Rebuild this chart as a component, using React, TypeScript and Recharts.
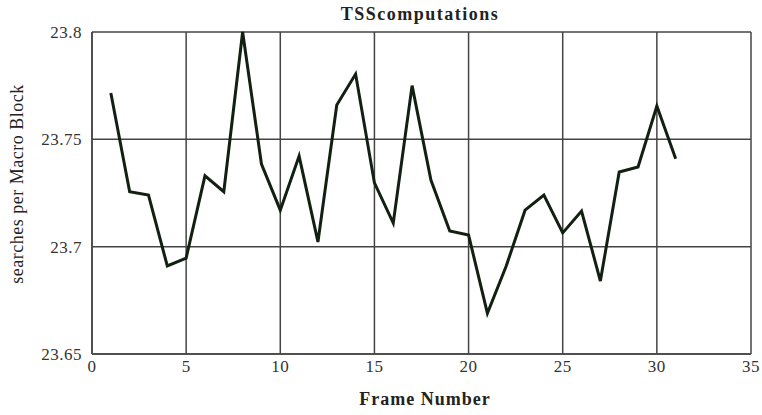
import { LineChart, Line, XAxis, YAxis, CartesianGrid } from 'recharts';

// frame index and TSS search count per macro block
const frames = [
  1, 2, 3, 4, 5, 6, 7, 8, 9, 10, 11, 12, 13, 14, 15, 16,
  17, 18, 19, 20, 21, 22, 23, 24, 25, 26, 27, 28, 29, 30, 31,
];
const searches = [
  23.7716, 23.7256, 23.724, 23.691, 23.6947, 23.733, 23.7256, 23.8,
  23.7385, 23.717, 23.7422, 23.7022, 23.766, 23.7804, 23.7297, 23.711,
  23.775, 23.731, 23.7073, 23.7054, 23.669, 23.691, 23.717, 23.724,
  23.7064, 23.7166, 23.684, 23.7348, 23.7371, 23.7655, 23.741,
];
const xTicks = [0, 5, 10, 15, 20, 25, 30, 35];
const yTicks = [23.65, 23.7, 23.75, 23.8];

const data = frames.map((f, i) => ({ frame: f, value: searches[i] }));

const serif = 'Liberation Serif';
const tickStyle = { fontFamily: serif, fontSize: 17, fill: '#333', letterSpacing: 0.5 };

const App = () => {
  return (
    <div style={{ position: 'absolute', left: 0, top: 0, background: '#fff', fontFamily: serif }}>
      <LineChart
        width={762}
        height={415}
        data={data}
        style={{ fontFamily: serif }}
        margin={{ top: 32, right: 11, bottom: 0, left: 0 }}
      >
        <CartesianGrid stroke="#444" strokeWidth={1.5} />
        <XAxis
          dataKey="frame"
          type="number"
          domain={[0, 35]}
          ticks={xTicks}
          height={61}
          stroke="#444"
          strokeWidth={1.5}
          fontFamily={serif}
          fontSize={17}
          tickLine={false}
          tickSize={6}
          tickMargin={0}
          tick={tickStyle}
        />
        <YAxis
          type="number"
          domain={[23.65, 23.8]}
          ticks={yTicks}
          width={92}
          stroke="#444"
          strokeWidth={1.5}
          fontFamily={serif}
          fontSize={17}
          tickLine={false}
          tickSize={6}
          tickMargin={4}
          tick={tickStyle}
          tickFormatter={(v: number) => String(+v.toFixed(2))}
        />
        <Line
          dataKey="value"
          stroke="#122012"
          strokeWidth={3}
          dot={false}
          strokeLinejoin="miter"
          isAnimationActive={false}
        />
        <text
          x={420}
          y={20}
          textAnchor="middle"
          style={{ fontFamily: serif }}
          fontWeight="bold"
          fontSize={18}
          letterSpacing={1.5}
          fill="#222"
        >
          TSScomputations
        </text>
        <text
          x={425}
          y={405}
          textAnchor="middle"
          style={{ fontFamily: serif }}
          fontWeight="bold"
          fontSize={18}
          letterSpacing={1}
          fill="#222"
        >
          Frame Number
        </text>
        <text
          x={23}
          y={184}
          transform="rotate(-90, 23, 184)"
          textAnchor="middle"
          style={{ fontFamily: serif }}
          fontSize={18}
          letterSpacing={0.5}
          fill="#222"
        >
          searches per Macro Block
        </text>
      </LineChart>
    </div>
  );
};

export default App;
